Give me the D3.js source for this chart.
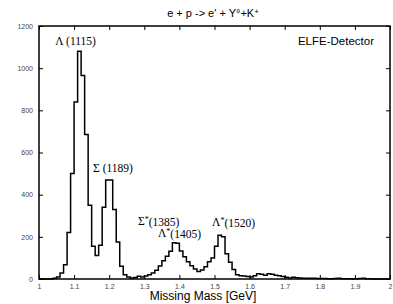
<!DOCTYPE html>
<html>
<head>
<meta charset="utf-8">
<script src="https://cdn.jsdelivr.net/npm/d3@7"></script>
<style>
  html, body { margin: 0; padding: 0; background: #fff; }
  svg { display: block; }
</style>
</head>
<body>
<div id="chart"></div>
<script>
// lower edge of each 10 MeV bin [GeV]
const massBins = [
  1.00, 1.01, 1.02, 1.03, 1.04, 1.05, 1.06, 1.07, 1.08, 1.09,
  1.10, 1.11, 1.12, 1.13, 1.14, 1.15, 1.16, 1.17, 1.18, 1.19,
  1.20, 1.21, 1.22, 1.23, 1.24, 1.25, 1.26, 1.27, 1.28, 1.29,
  1.30, 1.31, 1.32, 1.33, 1.34, 1.35, 1.36, 1.37, 1.38, 1.39,
  1.40, 1.41, 1.42, 1.43, 1.44, 1.45, 1.46, 1.47, 1.48, 1.49,
  1.50, 1.51, 1.52, 1.53, 1.54, 1.55, 1.56, 1.57, 1.58, 1.59,
  1.60, 1.61, 1.62, 1.63, 1.64, 1.65, 1.66, 1.67, 1.68, 1.69,
  1.70, 1.71, 1.72, 1.73, 1.74, 1.75, 1.76, 1.77, 1.78, 1.79,
  1.80, 1.81, 1.82, 1.83, 1.84, 1.85, 1.86, 1.87, 1.88, 1.89,
  1.90, 1.91, 1.92, 1.93, 1.94, 1.95, 1.96, 1.97, 1.98, 1.99
]
const binWidth = 0.01

const counts = [
  0, 0, 0, 0, 3, 10, 28, 68, 220, 500,
  840, 1080, 965, 685, 350, 155, 112, 160, 340, 470,
  470, 330, 175, 60, 20, 10, 5, 7, 13, 10,
  14, 20, 28, 42, 62, 86, 108, 132, 172, 170,
  133, 106, 82, 63, 47, 35, 43, 58, 82, 100,
  155, 208, 200, 120, 80, 45, 20, 15, 14, 12,
  10, 15, 25, 22, 18, 25, 22, 18, 15, 12,
  8, 5, 8, 6, 5, 4, 4, 3, 3, 2,
  2, 2, 1, 1, 2, 3, 1, 1, 1, 0,
  1, 2, 3, 1, 1, 0, 0, 0, 0, 0
]

const xTicks = [1, 1.1, 1.2, 1.3, 1.4, 1.5, 1.6, 1.7, 1.8, 1.9, 2]
const xTickLabels = ["1", "1.1", "1.2", "1.3", "1.4", "1.5", "1.6", "1.7", "1.8", "1.9", "2"]
const yTicks = [0, 200, 400, 600, 800, 1000, 1200]
const yTickLabels = ["0", "200", "400", "600", "800", "1000", "1200"]

// resonance labels: symbol, mass, anchor (GeV, counts) of the text start
const peakSymbols = ["Λ", "Σ", "Σ", "Λ", "Λ"]
const peakStars = [false, false, true, true, true]
const peakMasses = ["1115", "1189", "1385", "1405", "1520"]
const peakAnchorX = [1.046, 1.154, 1.282, 1.339, 1.493]
const peakAnchorY = [1110, 507, 256, 199, 251]

const W = 393, H = 304
const margin = { top: 26, right: 3, bottom: 25, left: 39 }

const svg = d3.select("#chart").append("svg")
  .attr("width", W)
  .attr("height", H)

const x = d3.scaleLinear().domain([1, 2]).range([margin.left, W - margin.right])
const y = d3.scaleLinear().domain([0, 1200]).range([H - margin.bottom, margin.top])

const tickFont = "'Liberation Sans', Arial, sans-serif"

// axes with inward ticks
svg.append("g")
  .attr("transform", `translate(0,${y(0)})`)
  .call(d3.axisBottom(x).tickValues(xTicks)
    .tickFormat((d, i) => xTickLabels[i])
    .tickSizeInner(-4).tickSizeOuter(0).tickPadding(5))
svg.append("g")
  .attr("transform", `translate(0,${y(1200)})`)
  .call(d3.axisTop(x).tickValues(xTicks).tickFormat("")
    .tickSizeInner(-4).tickSizeOuter(0))
svg.append("g")
  .attr("transform", `translate(${x(1)},0)`)
  .call(d3.axisLeft(y).tickValues(yTicks)
    .tickFormat((d, i) => yTickLabels[i])
    .tickSizeInner(-4).tickSizeOuter(0).tickPadding(6))
svg.append("g")
  .attr("transform", `translate(${x(2)},0)`)
  .call(d3.axisRight(y).tickValues(yTicks).tickFormat("")
    .tickSizeInner(-4).tickSizeOuter(0))

svg.selectAll(".domain").remove()
svg.selectAll(".tick line").attr("stroke", "#000").attr("stroke-width", 1)
svg.selectAll(".tick text")
  .attr("font-family", tickFont)
  .attr("font-size", "7px")
  .attr("fill", "#444")

// histogram as a step line
const steps = massBins.map((m, i) => [m, counts[i]])
steps.push([massBins[massBins.length - 1] + binWidth, 0])

const line = d3.line()
  .x(d => x(d[0]))
  .y(d => y(d[1]))
  .curve(d3.curveStepAfter)

svg.append("path")
  .datum(steps)
  .attr("fill", "none")
  .attr("stroke", "#000")
  .attr("stroke-width", 1.5)
  .attr("d", line)

// frame
svg.append("rect")
  .attr("x", x(1))
  .attr("y", y(1200))
  .attr("width", x(2) - x(1))
  .attr("height", y(0) - y(1200))
  .attr("fill", "none")
  .attr("stroke", "#000")
  .attr("stroke-width", 1.5)

// title
const title = svg.append("text")
  .attr("x", 213)
  .attr("y", 17)
  .attr("text-anchor", "middle")
  .attr("font-family", tickFont)
  .attr("font-size", "11px")
  .attr("fill", "#000")
title.append("tspan").text("e + p -> e' + Y°+K")
title.append("tspan").attr("dy", "-0.4em").attr("font-size", "8px").text("+")

svg.append("text")
  .attr("x", 374)
  .attr("y", 45)
  .attr("text-anchor", "end")
  .attr("font-family", tickFont)
  .attr("font-size", "11.5px")
  .attr("fill", "#000")
  .text("ELFE-Detector")

svg.append("text")
  .attr("x", 203)
  .attr("y", 300)
  .attr("text-anchor", "middle")
  .attr("font-family", tickFont)
  .attr("font-size", "12px")
  .attr("fill", "#000")
  .text("Missing Mass [GeV]")

// resonance labels
peakSymbols.forEach((s, i) => {
  const t = svg.append("text")
    .attr("x", x(peakAnchorX[i]))
    .attr("y", y(peakAnchorY[i]))
    .attr("font-family", "'Liberation Serif', 'Times New Roman', serif")
    .attr("font-size", "11.5px")
    .attr("fill", "#000")
  t.append("tspan").text(s)
  if (peakStars[i]) {
    t.append("tspan").attr("dy", "-0.35em").attr("font-size", "8px").text("*")
    t.append("tspan").attr("dy", "0.35em").text(`(${peakMasses[i]})`)
  } else {
    t.append("tspan").text(` (${peakMasses[i]})`)
  }
})
</script>
</body>
</html>
